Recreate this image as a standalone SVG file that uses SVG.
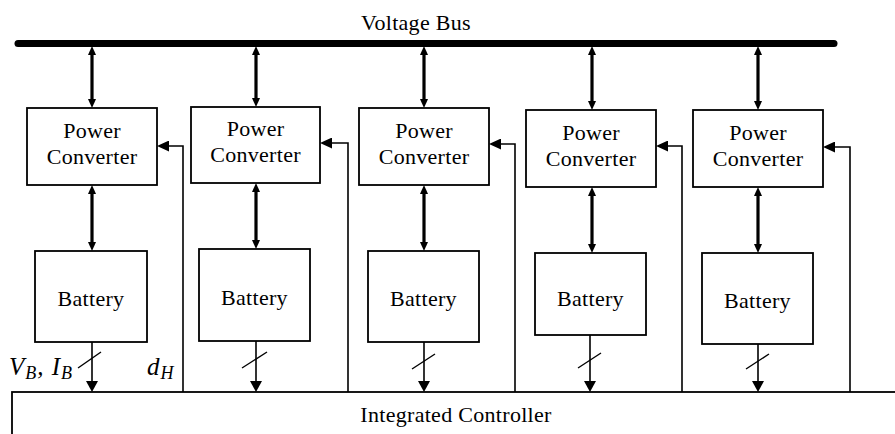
<svg xmlns="http://www.w3.org/2000/svg" width="895" height="434" viewBox="0 0 895 434">
<style>
  .box{fill:#fff;stroke:#000;stroke-width:1.8}
  .t{font-family:'Liberation Serif','Times New Roman','DejaVu Serif',serif;font-size:22px;fill:#000;text-anchor:middle;letter-spacing:0.3px}
  .it{font-family:'Liberation Serif','Times New Roman','DejaVu Serif',serif;font-size:25px;font-style:italic;fill:#000;letter-spacing:1px}
  .sub{font-size:18px}
  .bi{stroke:#000;stroke-width:3.2;fill:none;marker-start:url(#bh);marker-end:url(#bh)}
  .sig{stroke:#000;stroke-width:1.6;fill:none;marker-end:url(#ah)}
  .fb{stroke:#000;stroke-width:1.6;fill:none;marker-end:url(#fh)}
  .sl{stroke:#000;stroke-width:1.4;fill:none}
</style>
<defs>
  <marker id="bh" markerUnits="userSpaceOnUse" markerWidth="10" markerHeight="8" refX="0" refY="4" orient="auto-start-reverse">
    <path d="M0,0 L9,4 L0,8 z" fill="#000"/>
  </marker>
  <marker id="ah" markerUnits="userSpaceOnUse" markerWidth="11" markerHeight="12" refX="0" refY="6" orient="auto">
    <path d="M0,0 L11,6 L0,12 z" fill="#000"/>
  </marker>
  <marker id="fh" markerUnits="userSpaceOnUse" markerWidth="12" markerHeight="11" refX="0" refY="5.5" orient="auto">
    <path d="M0,0 L12,5.5 L0,11 z" fill="#000"/>
  </marker>
</defs>

<g id="bus">
  <line x1="18" y1="43.5" x2="834" y2="43.5" stroke="#000" stroke-width="7" stroke-linecap="round"/>
  <text class="t" x="416" y="30">Voltage Bus</text>
</g>

<g id="controller">
  <rect x="12" y="392" width="900" height="60" fill="#fff" stroke="#000" stroke-width="1.8"/>
  <text class="t" x="456" y="422">Integrated Controller</text>
</g>

<g id="pc1"><rect class="box" x="27" y="108" width="130" height="77"/><text class="t" x="92" y="138">Power</text><text class="t" x="92" y="164">Converter</text></g>
<g id="pc2"><rect class="box" x="191" y="107" width="129" height="76"/><text class="t" x="255.5" y="136">Power</text><text class="t" x="255.5" y="162">Converter</text></g>
<g id="pc3"><rect class="box" x="359" y="108" width="130" height="77"/><text class="t" x="424" y="138">Power</text><text class="t" x="424" y="164">Converter</text></g>
<g id="pc4"><rect class="box" x="526" y="110" width="130" height="77"/><text class="t" x="591" y="140">Power</text><text class="t" x="591" y="166">Converter</text></g>
<g id="pc5"><rect class="box" x="693" y="110" width="130" height="77"/><text class="t" x="758" y="140">Power</text><text class="t" x="758" y="166">Converter</text></g>

<g id="bat1"><rect class="box" x="35" y="251" width="112" height="91"/><text class="t" x="91" y="306">Battery</text></g>
<g id="bat2"><rect class="box" x="199" y="249" width="111" height="92"/><text class="t" x="254.5" y="305">Battery</text></g>
<g id="bat3"><rect class="box" x="368" y="251" width="111" height="91"/><text class="t" x="423.5" y="306">Battery</text></g>
<g id="bat4"><rect class="box" x="535" y="253" width="111" height="82"/><text class="t" x="590.5" y="306">Battery</text></g>
<g id="bat5"><rect class="box" x="702" y="253" width="111" height="91"/><text class="t" x="757.5" y="308">Battery</text></g>

<g id="labels">
  <text class="it" x="9" y="375">V<tspan class="sub" dy="4">B</tspan><tspan dy="-4">, I</tspan><tspan class="sub" dy="4">B</tspan></text>
  <text class="it" x="147" y="375">d<tspan class="sub" dy="4">H</tspan></text>
</g>

<g id="connectors">
  <line class="bi" x1="92" y1="55" x2="92" y2="99"/>
  <line class="bi" x1="256" y1="55" x2="256" y2="98"/>
  <line class="bi" x1="424" y1="55" x2="424" y2="99"/>
  <line class="bi" x1="592" y1="55" x2="592" y2="101"/>
  <line class="bi" x1="758" y1="55" x2="758" y2="101"/>
  <line class="bi" x1="92" y1="194" x2="92" y2="242"/>
  <line class="bi" x1="256" y1="192" x2="256" y2="240"/>
  <line class="bi" x1="424" y1="194" x2="424" y2="242"/>
  <line class="bi" x1="592" y1="196" x2="592" y2="244"/>
  <line class="bi" x1="758" y1="196" x2="758" y2="244"/>
  <line class="sig" x1="92" y1="342" x2="92" y2="381"/>
  <line class="sig" x1="256" y1="341" x2="256" y2="381"/>
  <line class="sig" x1="424" y1="342" x2="424" y2="381"/>
  <line class="sig" x1="590" y1="335" x2="590" y2="381"/>
  <line class="sig" x1="758" y1="344" x2="758" y2="381"/>
  <line class="sl" x1="78" y1="368" x2="101" y2="352"/>
  <line class="sl" x1="242" y1="368" x2="267" y2="352"/>
  <line class="sl" x1="412" y1="369" x2="435" y2="354"/>
  <line class="sl" x1="578" y1="368" x2="601" y2="353"/>
  <line class="sl" x1="746" y1="369" x2="769" y2="354"/>
  <polyline class="fb" points="183,392 183,146 169,146"/>
  <polyline class="fb" points="348,392 348,143 332,143"/>
  <polyline class="fb" points="515,392 515,144 501,144"/>
  <polyline class="fb" points="682,392 682,146 668,146"/>
  <polyline class="fb" points="850,392 850,147 835,147"/>
</g>
</svg>
